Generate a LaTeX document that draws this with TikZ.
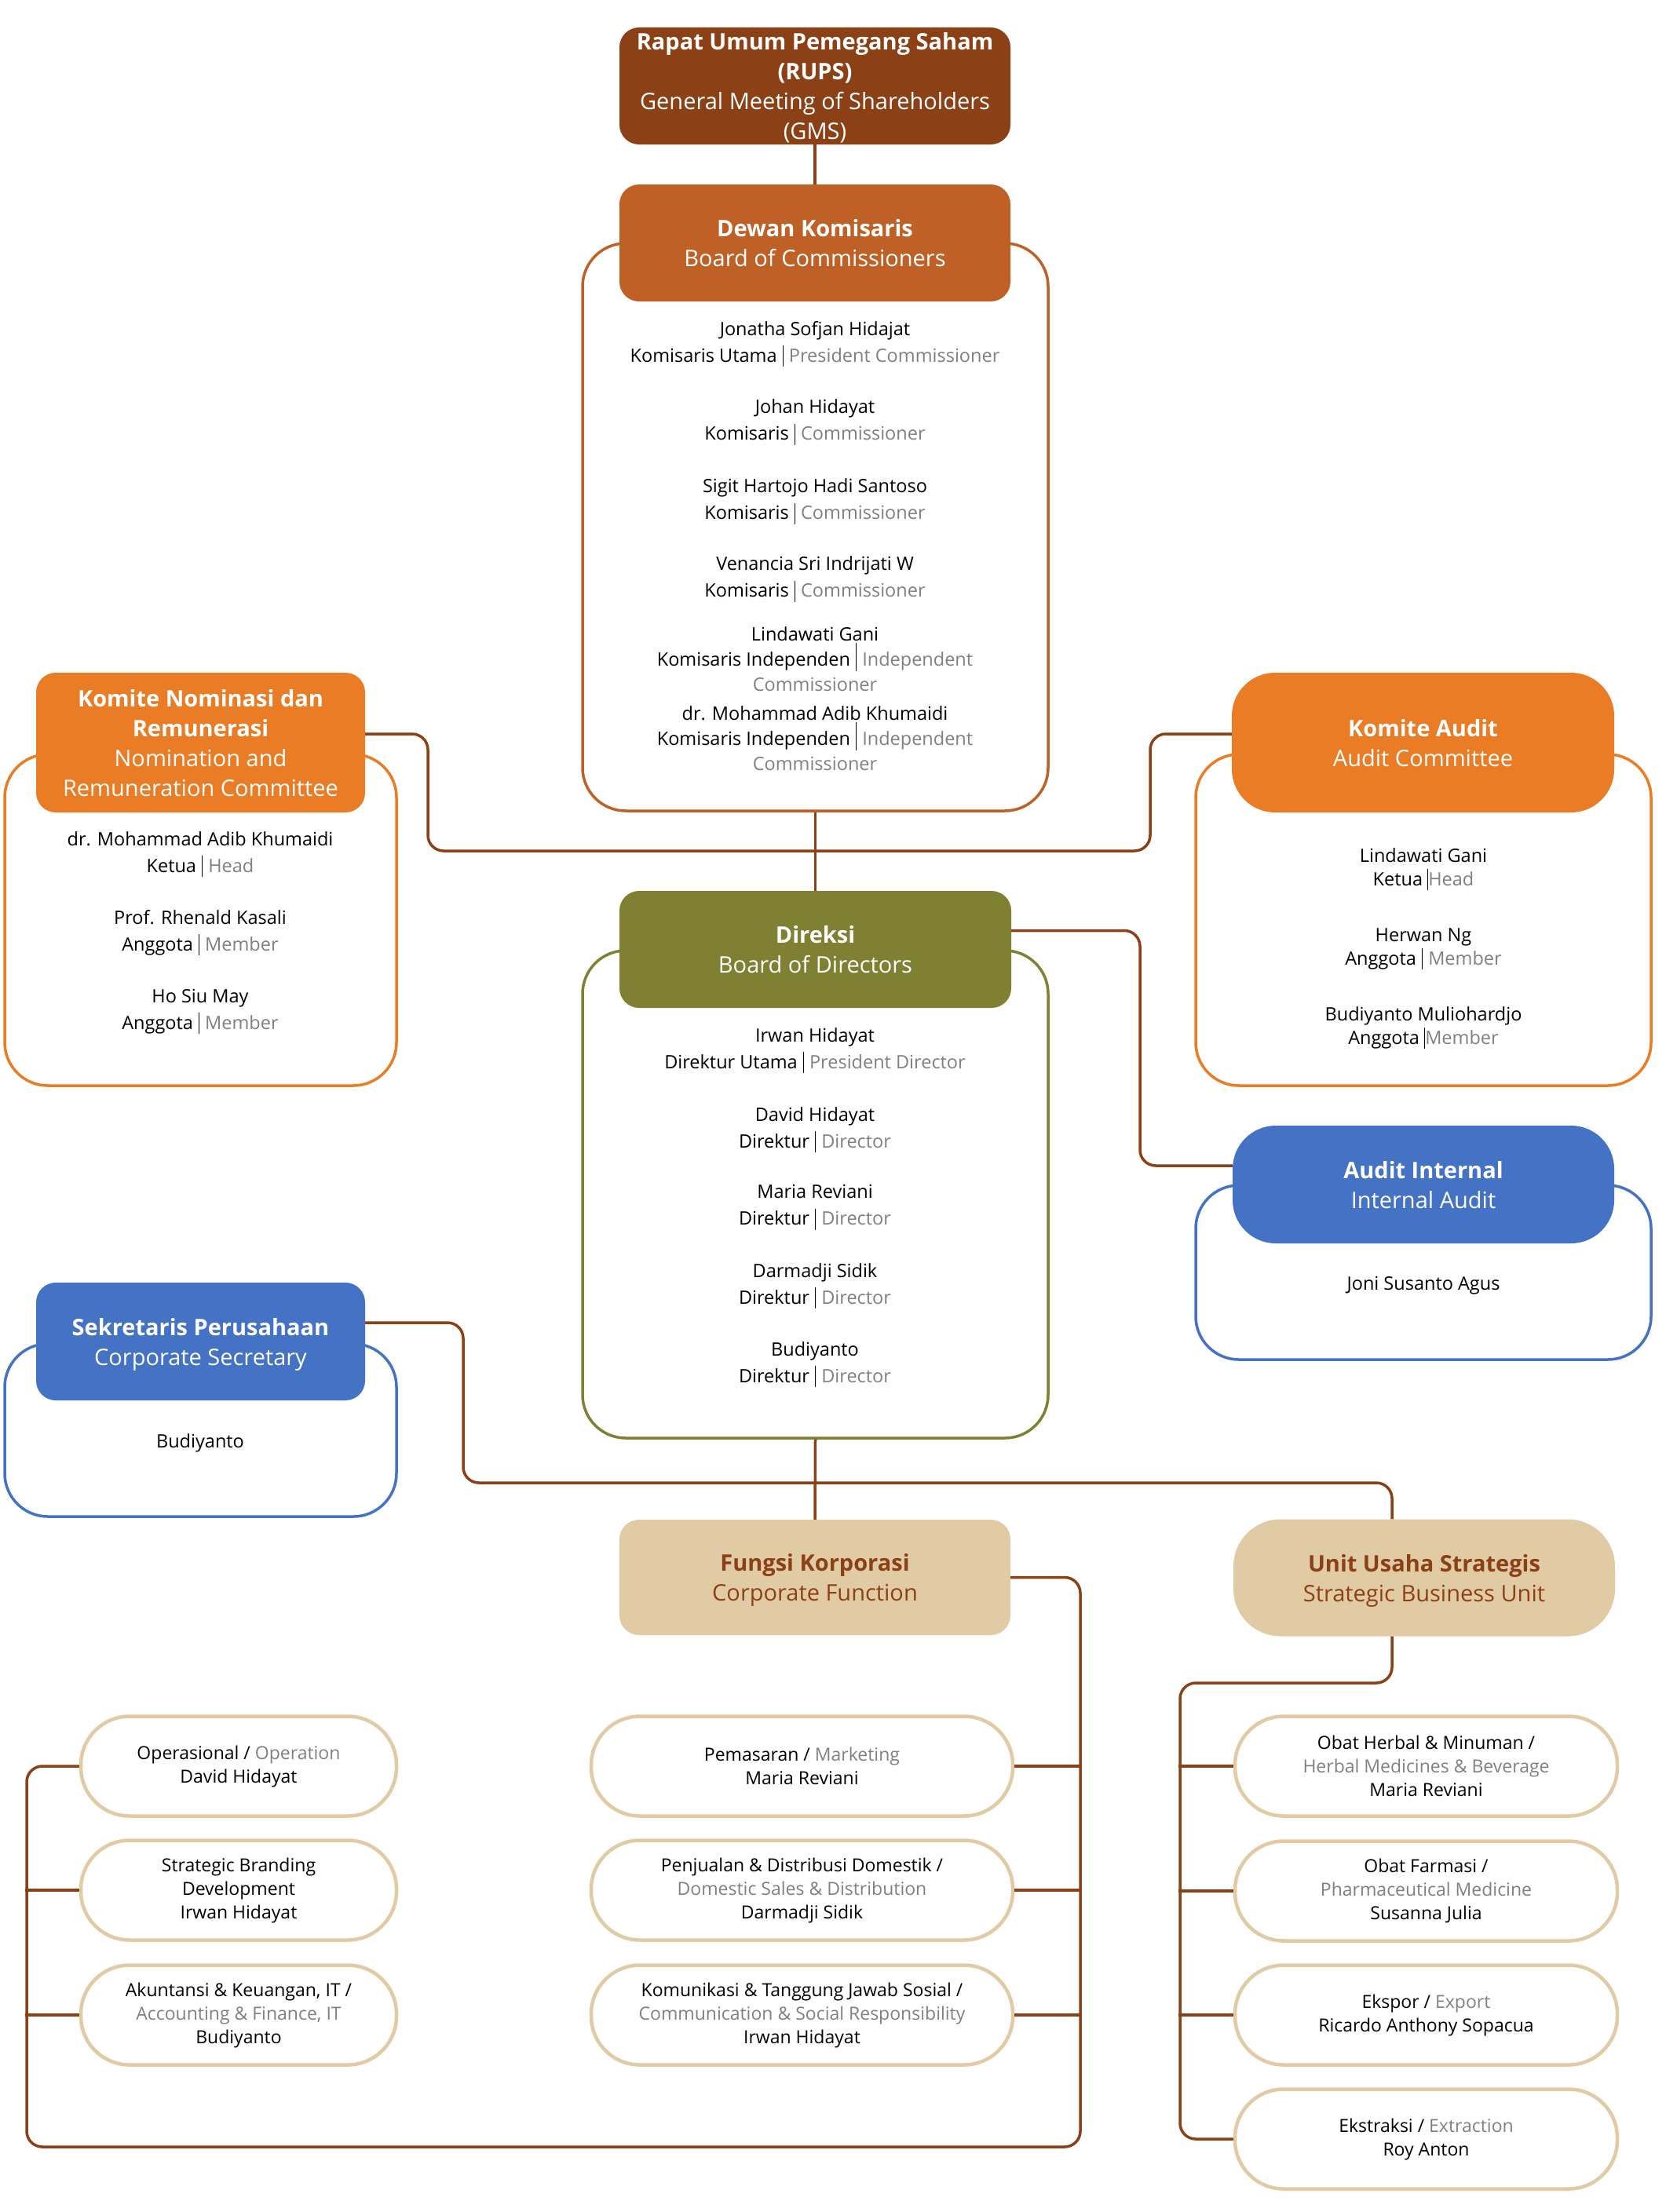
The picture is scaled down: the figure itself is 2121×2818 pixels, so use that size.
\documentclass[tikz,border=0pt]{standalone}
\usepackage{fontspec}
\setmainfont{Open Sans}
\usetikzlibrary{calc}
\definecolor{SidoBrown}{RGB}{139,64,22}
\definecolor{SidoRust}{RGB}{191,97,38}
\definecolor{SidoOrange}{RGB}{234,124,37}
\definecolor{SidoOlive}{RGB}{128,128,50}
\definecolor{SidoBlue}{RGB}{68,114,196}
\definecolor{SidoTan}{RGB}{224,203,164}
\definecolor{SidoGrey}{RGB}{128,128,128}
\newcommand{\vsep}[1][1.15em]{\hspace{.3em}\rule[-.25em]{1.2pt}{#1}\hspace{.3em}}
\newcommand{\en}[1]{\textcolor{SidoGrey}{#1}}

\tikzset{
  head/.style={fill=#1, rounded corners=25pt, inner sep=0pt, align=center, text=white,
    text depth=0pt, font=\fontsize{29}{38}\selectfont},
  frame/.style={draw=#1, line width=3.5pt, rounded corners=55pt, inner sep=0pt},
  body/.style={align=center, inner sep=0pt, font=\fontsize{23.5}{34}\selectfont},
  unit/.style={draw=SidoTan, line width=4.5pt, rounded corners=62pt, inner sep=0pt,
    minimum height=127pt, align=center, font=\fontsize{23}{30}\selectfont},
  link/.style={draw=SidoBrown, line width=3.5pt, rounded corners=20pt}
}

\begin{document}
\begin{tikzpicture}[x=1pt, y=-1pt]
  \useasboundingbox (0,0) rectangle (2121,2818);

  \node[frame=SidoRust, minimum width=593pt, minimum height=723pt] (dkb) at (1038.5,671.5) {};
  \node[frame=SidoOrange, minimum width=499pt, minimum height=422pt] (nrb) at (255.5,1172) {};
  \node[frame=SidoOrange, minimum width=580pt, minimum height=422pt] (acb) at (1813,1172) {};
  \node[frame=SidoOlive, minimum width=593pt, minimum height=621pt] (dirb) at (1038.5,1521.5) {};
  \node[frame=SidoBlue, minimum width=580pt, minimum height=222pt] (iab) at (1813,1621) {};
  \node[frame=SidoBlue, minimum width=499pt, minimum height=220pt] (csb) at (255.5,1822) {};

  \node[head=SidoBrown, minimum width=498pt, minimum height=149pt] (rups) at (1038,109.5)
    {\textbf{Rapat Umum Pemegang Saham}\\\textbf{(RUPS)}\\General Meeting of Shareholders\\(GMS)};
  \node[head=SidoRust, minimum width=498pt, minimum height=149pt] (dk) at (1038,309.5)
    {\textbf{Dewan Komisaris}\\Board of Commissioners};
  \node[head=SidoOrange, minimum width=419pt, minimum height=178pt] (nrc) at (255.5,946)
    {\textbf{Komite Nominasi dan}\\\textbf{Remunerasi}\\Nomination and\\Remuneration Committee};
  \node[head=SidoOrange, rounded corners=55pt, minimum width=487pt, minimum height=178pt] (ac) at (1812.5,946)
    {\textbf{Komite Audit}\\Audit Committee};
  \node[head=SidoOlive, minimum width=499pt, minimum height=149pt] (dir) at (1038.5,1209.5)
    {\textbf{Direksi}\\Board of Directors};
  \node[head=SidoBlue, rounded corners=55pt, minimum width=486pt, minimum height=150pt] (ia) at (1813,1509)
    {\textbf{Audit Internal}\\Internal Audit};
  \node[head=SidoBlue, minimum width=419pt, minimum height=150pt] (cs) at (255.5,1709)
    {\textbf{Sekretaris Perusahaan}\\Corporate Secretary};
  \node[head=SidoTan, text=SidoBrown, minimum width=498pt, minimum height=147pt] (cf) at (1038,2009.5)
    {\textbf{Fungsi Korporasi}\\Corporate Function};
  \node[head=SidoTan, text=SidoBrown, rounded corners=60pt, minimum width=486pt, minimum height=149pt] (sbu) at (1814,2010)
    {\textbf{Unit Usaha Strategis}\\Strategic Business Unit};

  \node[body] (dk1) at (1038,438) {Jonatha Sofjan Hidajat\\Komisaris Utama\vsep\en{President Commissioner}};
  \node[body] (dk2) at (1038,538) {Johan Hidayat\\Komisaris\vsep\en{Commissioner}};
  \node[body] (dk3) at (1038,639) {Sigit Hartojo Hadi Santoso\\Komisaris\vsep\en{Commissioner}};
  \node[body] (dk4) at (1038,738) {Venancia Sri Indrijati W\\Komisaris\vsep\en{Commissioner}};
  \node[body, font=\fontsize{23.5}{32}\selectfont] (dk5) at (1038,840)
    {Lindawati Gani\\Komisaris Independen\vsep[1.5em]\en{Independent}\\\en{Commissioner}};
  \node[body, font=\fontsize{23.5}{32}\selectfont] (dk6) at (1038,941)
    {dr. Mohammad Adib Khumaidi\\Komisaris Independen\vsep[1.5em]\en{Independent}\\\en{Commissioner}};

  \node[body] (nr1) at (255,1088.5) {dr. Mohammad Adib Khumaidi\\Ketua\vsep\en{Head}};
  \node[body] (nr2) at (255,1188.5) {Prof. Rhenald Kasali\\Anggota\vsep\en{Member}};
  \node[body] (nr3) at (255,1288.5) {Ho Siu May\\Anggota\vsep\en{Member}};

  \node[body, font=\fontsize{23.5}{30}\selectfont] (ac1) at (1813,1107) {Lindawati Gani\\Ketua \rule[-.25em]{1.2pt}{1.15em}\en{Head}};
  \node[body, font=\fontsize{23.5}{30}\selectfont] (ac2) at (1813,1209) {Herwan Ng\\Anggota\vsep\en{Member}};
  \node[body, font=\fontsize{23.5}{30}\selectfont] (ac3) at (1813,1309) {Budiyanto Muliohardjo\\Anggota \rule[-.25em]{1.2pt}{1.15em}\en{Member}};

  \node[body] (dr1) at (1038,1338) {Irwan Hidayat\\Direktur Utama\vsep\en{President Director}};
  \node[body] (dr2) at (1038,1439) {David Hidayat\\Direktur\vsep\en{Director}};
  \node[body] (dr3) at (1038,1538) {Maria Reviani\\Direktur\vsep\en{Director}};
  \node[body] (dr4) at (1038,1638) {Darmadji Sidik\\Direktur\vsep\en{Director}};
  \node[body] (dr5) at (1038,1738) {Budiyanto\\Direktur\vsep\en{Director}};

  \node[body] (ia1) at (1813,1638) {Joni Susanto Agus};
  \node[body] (cs1) at (255,1838) {Budiyanto};

  \node[unit, minimum width=402pt] (op) at (304,2250) {Operasional / \en{Operation}\\David Hidayat};
  \node[unit, minimum width=402pt] (sb) at (304,2408) {Strategic Branding\\Development\\Irwan Hidayat};
  \node[unit, minimum width=402pt] (ak) at (304,2567)
    {Akuntansi \& Keuangan, IT /\\\en{Accounting \& Finance, IT}\\Budiyanto};
  \node[unit, minimum width=537pt] (mk) at (1021.5,2250) {Pemasaran / \en{Marketing}\\Maria Reviani};
  \node[unit, minimum width=537pt] (sd) at (1021.5,2408)
    {Penjualan \& Distribusi Domestik /\\\en{Domestic Sales \& Distribution}\\Darmadji Sidik};
  \node[unit, minimum width=537pt] (ks) at (1021.5,2567)
    {Komunikasi \& Tanggung Jawab Sosial /\\\en{Communication \& Social Responsibility}\\Irwan Hidayat};
  \node[unit, minimum width=487pt] (hb) at (1816.5,2250)
    {Obat Herbal \& Minuman /\\\en{Herbal Medicines \& Beverage}\\Maria Reviani};
  \node[unit, minimum width=487pt] (fm) at (1816.5,2409)
    {Obat Farmasi /\\\en{Pharmaceutical Medicine}\\Susanna Julia};
  \node[unit, minimum width=487pt] (ek) at (1816.5,2567) {Ekspor / \en{Export}\\Ricardo Anthony Sopacua};
  \node[unit, minimum width=487pt] (ex) at (1816.5,2725) {Ekstraksi / \en{Extraction}\\Roy Anton};

  \draw[link] (rups.south) -- (dk.north);
  \draw[link] (dkb.south) -- (dir.north);
  \draw[link] ([yshift=11pt]nrc.east) -| (545,1084) -| (1465,935) -- ([yshift=11pt]ac.west);
  \draw[link] ([yshift=24pt]dir.east) -| (1452,1485) -- ([yshift=24pt]ia.west);
  \draw[link] (dirb.south) -- (cf.north);
  \draw[link] ([yshift=24pt]cs.east) -| (590,1889) -| ([xshift=-41pt]sbu.north);
  \draw[link] (cf.east) -| (1376,2735) -| (34,2250) -- (op.west);
  \foreach \n in {mk,sd,ks}
    \draw[link] (\n.east) -- ++(86,0);
  \foreach \n in {sb,ak}
    \draw[link] (\n.west) -- ++(-69,0);
  \draw[link] ([xshift=-41pt]sbu.south) |- (1503,2144) |- (ex.west);
  \foreach \n in {hb,fm,ek}
    \draw[link] (\n.west) -- ++(-70,0);
\end{tikzpicture}
\end{document}
